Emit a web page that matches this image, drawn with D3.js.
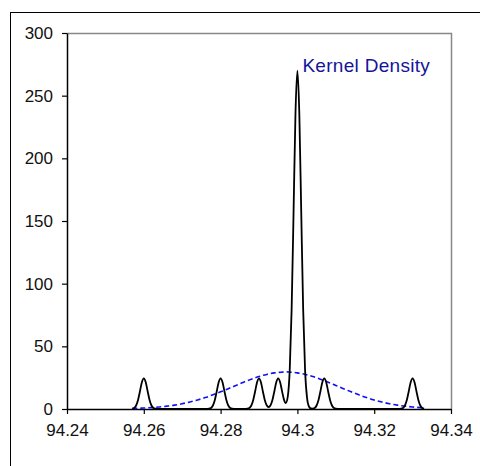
<!DOCTYPE html>
<html>
<head>
<meta charset="utf-8">
<script src="https://cdn.jsdelivr.net/npm/d3@7/dist/d3.min.js"></script>
<style>
  body { margin: 0; background: #fff; }
  svg { display: block; font-family: Arial, "Liberation Sans", sans-serif; }
</style>
</head>
<body>
<div class="chart"></div>
<script>
// kernel density (black)
var kdX = [94.257, 94.2575, 94.258, 94.2585, 94.259, 94.2595, 94.26, 94.2605, 94.261, 94.2615, 94.262, 94.2625, 94.263, 94.264,
  94.276, 94.277, 94.2775, 94.278, 94.2785, 94.279, 94.2795, 94.28, 94.2805, 94.281, 94.2815, 94.282, 94.2825, 94.283, 94.284,
  94.286, 94.287, 94.2875, 94.288, 94.2885, 94.289, 94.2895, 94.29, 94.2905, 94.291, 94.2915, 94.292, 94.2925, 94.293, 94.2935,
  94.294, 94.2945, 94.295, 94.2955, 94.296, 94.2965, 94.297, 94.2975, 94.298, 94.2985, 94.299, 94.2995, 94.3, 94.3005, 94.301,
  94.3015, 94.302, 94.3025, 94.303, 94.3035, 94.304, 94.3045, 94.305, 94.3055, 94.306, 94.3065, 94.307, 94.3075, 94.308, 94.3085,
  94.309, 94.3095, 94.31, 94.311,
  94.326, 94.327, 94.3275, 94.328, 94.3285, 94.329, 94.3295, 94.33, 94.3305, 94.331, 94.3315, 94.332, 94.3325, 94.333];
var kdY = [0.2, 0.8, 2.8, 7.2, 14.2, 21.4, 24.5, 21.4, 14.2, 7.2, 2.8, 0.8, 0.2, 0,
  0, 0.2, 0.8, 2.8, 7.2, 14.2, 21.4, 24.5, 21.4, 14.2, 7.2, 2.8, 0.8, 0.2, 0,
  0, 0.2, 0.8, 2.8, 7.2, 14.2, 21.4, 24.5, 21.4, 14.2, 7.2, 3.0, 1.6, 3.0, 7.2,
  14.2, 21.4, 24.5, 21.4, 14.3, 7.5, 4.8, 10, 31, 79.7, 156.9, 235.7, 270, 235.7, 156.9,
  79.7, 30.8, 9.2, 2.0, 0.4, 0.3, 0.8, 2.8, 7.2, 14.2, 21.4, 24.5, 21.4, 14.2, 7.2,
  2.8, 0.8, 0.2, 0,
  0, 0.2, 0.8, 2.8, 7.2, 14.2, 21.4, 24.5, 21.4, 14.2, 7.2, 2.8, 0.8, 0.2];

// normal curve (blue dashed)
var nX = [94.257, 94.258, 94.26, 94.262, 94.264, 94.266, 94.268, 94.27, 94.272, 94.274, 94.276, 94.278, 94.28, 94.282,
  94.284, 94.286, 94.288, 94.29, 94.292, 94.294, 94.296, 94.297, 94.298, 94.3, 94.302, 94.304, 94.306, 94.308, 94.31,
  94.312, 94.314, 94.316, 94.318, 94.32, 94.322, 94.324, 94.326, 94.328, 94.33, 94.332, 94.333];
var nY = [0.4, 0.5, 0.8, 1.1, 1.6, 2.3, 3.1, 4.2, 5.6, 7.2, 9.1, 11.3, 13.7, 16.2,
  18.8, 21.4, 23.8, 25.9, 27.6, 28.8, 29.4, 29.6, 29.4, 28.8, 27.6, 25.9, 23.8, 21.4, 18.8,
  16.2, 13.7, 11.3, 9.1, 7.2, 5.6, 4.2, 3.1, 2.3, 1.6, 1.1, 0.9];

var xTicks = [94.24, 94.26, 94.28, 94.3, 94.32, 94.34];
var yTicks = [0, 50, 100, 150, 200, 250, 300];
var label = "Kernel Density";

var margin = {top: 33, right: 29, bottom: 57, left: 67},
    width = 480 - margin.left - margin.right,
    height = 466 - margin.top - margin.bottom;

var x = d3.scaleLinear().domain([94.24, 94.34]).range([0, width]);
var y = d3.scaleLinear().domain([0, 300]).range([height, 0]);

var svg = d3.select(".chart").append("svg")
    .attr("width", 480)
    .attr("height", 466);

// outer chart border (runs off the page right and bottom)
svg.append("rect")
    .attr("x", 10.5).attr("y", 12.5)
    .attr("width", 500).attr("height", 500)
    .attr("fill", "none").attr("stroke", "#000");

var g = svg.append("g")
    .attr("transform", "translate(" + margin.left + "," + margin.top + ")");

// plot frame top/right in grey
g.append("path")
    .attr("d", "M0,0.5H" + (width + 0.5) + "V" + height)
    .attr("fill", "none").attr("stroke", "#888").attr("stroke-width", 1.5);

var xAxis = g.append("g")
    .attr("transform", "translate(0," + height + ")")
    .call(d3.axisBottom(x).tickValues(xTicks).tickFormat(function(d) { return d; }).tickSize(5).tickSizeOuter(0));
var yAxis = g.append("g")
    .call(d3.axisLeft(y).tickValues(yTicks).tickSize(5).tickSizeOuter(0));

[xAxis, yAxis].forEach(function(a) {
  a.select(".domain").attr("stroke", "#000").attr("stroke-width", 1.5);
  a.selectAll(".tick line").attr("stroke", "#000").attr("stroke-width", 1.2);
  a.selectAll("text").attr("fill", "#111").style("font-size", "17px");
});
xAxis.selectAll("text").attr("y", 15);
yAxis.selectAll("text").attr("x", -14);

var line = d3.line()
    .x(function(d) { return x(d[0]); })
    .y(function(d) { return y(d[1]); })
    .curve(d3.curveMonotoneX);

g.append("path")
    .datum(nX.map(function(v, i) { return [v, nY[i]]; }))
    .attr("d", line)
    .attr("fill", "none")
    .attr("stroke", "#1010f5")
    .attr("stroke-width", 1.6)
    .attr("stroke-dasharray", "5,3");

g.append("path")
    .datum(kdX.map(function(v, i) { return [v, kdY[i]]; }))
    .attr("d", line)
    .attr("fill", "none")
    .attr("stroke", "#000")
    .attr("stroke-width", 1.8);

g.append("text")
    .attr("x", x(94.3) + 5)
    .attr("y", y(270) + 1)
    .attr("fill", "#14149a")
    .style("font-size", "19px")
    .style("letter-spacing", "0.3px")
    .text(label);
</script>
</body>
</html>
